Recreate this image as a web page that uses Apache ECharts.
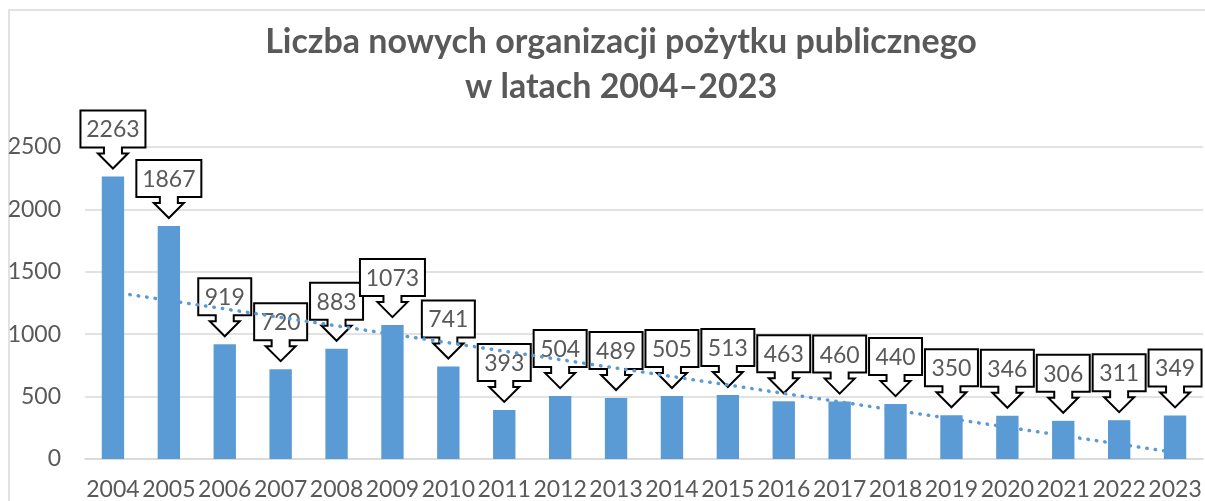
<!DOCTYPE html>
<html>
<head>
<meta charset="UTF-8">
<title>Liczba nowych OPP</title>
<script src="https://cdn.jsdelivr.net/npm/echarts@6/dist/echarts.min.js"></script>
<style>
  html, body { margin: 0; padding: 0; background: #fff; }
  #main { width: 1205px; height: 501px; }
</style>
</head>
<body>
<div id="main"></div>
<script type="text/javascript">
// data
var years = ['2004', '2005', '2006', '2007', '2008', '2009', '2010', '2011', '2012', '2013',
             '2014', '2015', '2016', '2017', '2018', '2019', '2020', '2021', '2022', '2023'];
var counts = [2263, 1867, 919, 720, 883, 1073, 741, 393, 504, 489,
              505, 513, 463, 460, 440, 350, 346, 306, 311, 349];
// linear trend line, start and end
var trendEnds = [['2004', 1338], ['2023', 52]];
var yTicks = [0, 500, 1000, 1500, 2000, 2500];

var grey = '#595959';
var blue = '#5B9BD5';
var font = 'Lato, "Open Sans", sans-serif';

// callout box with a down arrow pointing at the bar
function calloutItem(params, api) {
    var v = api.value(1);
    var p = api.coord([api.value(0), v]);
    var txt = String(v);
    var w = txt.length > 3 ? 65 : 53;
    var x = p[0];
    var tip = p[1] - 8;
    var B = tip - 21, T = B - 37, H = tip - 15;
    var L = x - w / 2, R = x + w / 2;
    return {
        type: 'group',
        children: [{
            type: 'polygon',
            shape: {
                points: [[L, T], [R, T], [R, B], [x + 9, B], [x + 9, H], [x + 15, H],
                         [x, tip], [x - 15, H], [x - 9, H], [x - 9, B], [L, B]]
            },
            style: { fill: '#fff', stroke: '#000', lineWidth: 2 }
        }, {
            type: 'text',
            style: {
                x: x, y: (T + B) / 2 + 1, text: txt,
                align: 'center', verticalAlign: 'middle',
                fill: grey, fontSize: 23, fontFamily: font
            }
        }]
    };
}

var chart = echarts.init(document.getElementById('main'));
chart.setOption({
    backgroundColor: '#fff',
    animation: false,
    title: {
        text: 'Liczba nowych organizacji pożytku publicznego\nw latach 2004–2023',
        left: 616,
        top: 15,
        textAlign: 'center',
        textStyle: {
            color: grey, fontSize: 34, fontWeight: 'bold',
            fontFamily: font, lineHeight: 45
        }
    },
    graphic: [{
        type: 'rect',
        shape: { x: 9, y: 10, width: 1400, height: 700 },
        style: { fill: 'none', stroke: '#d9d9d9', lineWidth: 1.5 },
        silent: true
    }],
    grid: { left: 85, right: 2, top: 147, bottom: 40 },
    xAxis: {
        type: 'category',
        data: years,
        axisLine: { lineStyle: { color: '#d9d9d9', width: 1.5 } },
        axisTick: { show: false },
        axisLabel: { color: grey, fontSize: 23, fontFamily: font, margin: 19, interval: 0 }
    },
    yAxis: {
        type: 'value',
        min: yTicks[0],
        max: yTicks[yTicks.length - 1],
        interval: 500,
        axisLine: { show: false },
        axisTick: { show: false },
        splitLine: { lineStyle: { color: '#d9d9d9', width: 1.5 } },
        axisLabel: {
            color: grey, fontSize: 23, fontFamily: font, margin: 24,
            formatter: function (v) { return String(v); }
        }
    },
    series: [{
        type: 'bar',
        data: counts,
        barWidth: '40%',
        itemStyle: { color: blue },
        z: 2
    }, {
        type: 'custom',
        data: counts.map(function (c, i) { return [i, c]; }),
        renderItem: calloutItem,
        clip: false,
        z: 5
    }, {
        type: 'line',
        data: trendEnds,
        symbol: 'none',
        lineStyle: { color: blue, width: 3.5, type: [0.5, 8], cap: 'round' },
        z: 10
    }]
});
</script>
</body>
</html>
